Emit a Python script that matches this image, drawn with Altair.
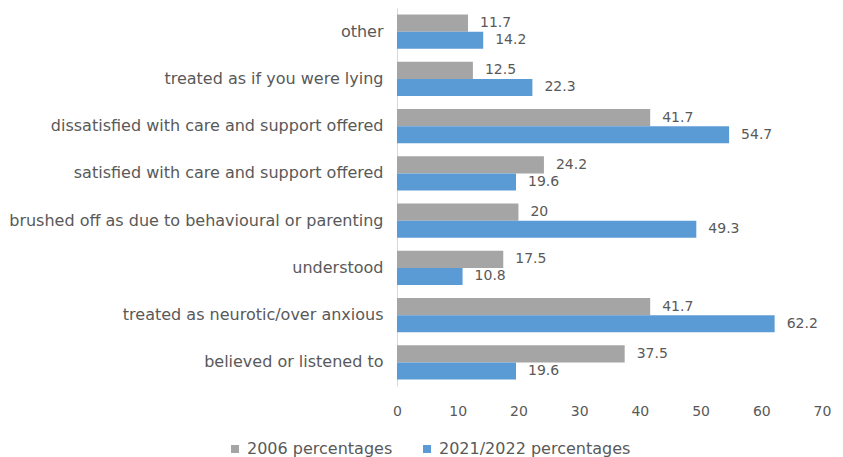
import altair as alt
import pandas as pd

categories = [
    "other\u00a0",
    "treated as if you were lying",
    "dissatisfied with care and support offered",
    "satisfied with care and support offered",
    "brushed off as due to behavioural or parenting",
    "understood",
    "treated as neurotic/over anxious",
    "believed or listened to",
]
series = ["2006 percentages", "2021/2022 percentages"]
values_2006 = [11.7, 12.5, 41.7, 24.2, 20, 17.5, 41.7, 37.5]
values_2021 = [14.2, 22.3, 54.7, 19.6, 49.3, 10.8, 62.2, 19.6]
x_ticks = [0, 10, 20, 30, 40, 50, 60, 70]
colors = ["#a5a5a5", "#5b9bd5"]

rows = []
for c, a, b in zip(categories, values_2006, values_2021):
    rows.append({"category": c, "series": series[0], "value": a})
    rows.append({"category": c, "series": series[1], "value": b})
df = pd.DataFrame(rows)

FONT = "DejaVu Sans"
TXT = "#595959"

base = alt.Chart(df).encode(
    y=alt.Y(
        "category:N",
        sort=categories,
        scale=alt.Scale(paddingInner=0.28, paddingOuter=0.14),
        axis=alt.Axis(
            title=None, ticks=False, domainColor="#d9d9d9", domainWidth=1,
            labelColor=TXT, labelFont=FONT, labelFontSize=16, labelPadding=14,
            labelLimit=500,
        ),
    ),
    yOffset=alt.YOffset("series:N", sort=series),
)

bars = base.mark_bar().encode(
    x=alt.X(
        "value:Q",
        scale=alt.Scale(domain=[0, 70], nice=False),
        axis=alt.Axis(
            values=x_ticks, title=None, grid=False, domain=False, ticks=False,
            labelFlush=False,
            labelPadding=18, labelColor=TXT, labelFont=FONT, labelFontSize=14,
        ),
    ),
    color=alt.Color(
        "series:N",
        scale=alt.Scale(domain=series, range=colors),
        legend=alt.Legend(
            title=None, orient="none", direction="horizontal",
            legendX=-170, legendY=433,
            symbolType="square", symbolSize=64, symbolStrokeWidth=0,
            labelFont=FONT, labelFontSize=16, labelColor=TXT, labelLimit=400,
            labelOffset=4, columnPadding=26,
        ),
    ),
)

labels = base.mark_text(
    align="left", baseline="middle", dx=12, font=FONT, fontSize=14, color=TXT
).encode(
    x=alt.X("value:Q"),
    text=alt.Text("value:Q", format="~g"),
)

chart = (
    alt.layer(bars, labels)
    .properties(
        width=425, height=378,
        autosize=alt.AutoSizeParams(type="none"),
        padding={"left": 397, "top": 8, "right": 21, "bottom": 71},
        background="white",
    )
    .configure_view(stroke=None)
)

chart.save("out.html", embed_options={"renderer": "svg", "actions": False})
